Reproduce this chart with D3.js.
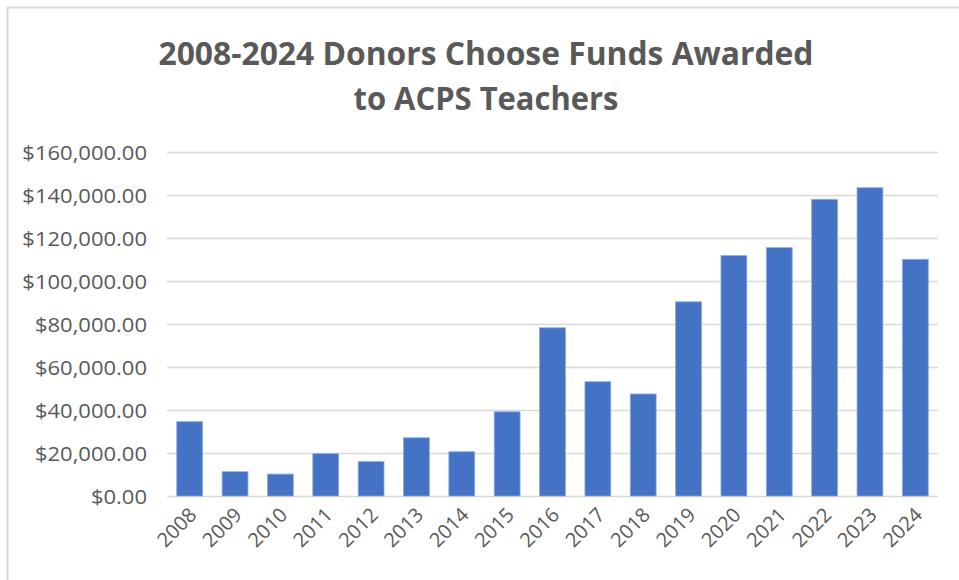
<!DOCTYPE html>
<html>
<head>
<meta charset="utf-8">
<script src="https://cdn.jsdelivr.net/npm/d3@7"></script>
<style>
  body { margin: 0; background: #fff; }
  svg { display: block; }
  .title { font-family: "Open Sans", sans-serif; font-weight: bold; fill: #595959; }
  .tick text { font-family: "Open Sans", sans-serif; fill: #595959; }
</style>
</head>
<body>
<svg id="chart" width="959" height="580"></svg>
<script>
// data
const years = ["2008", "2009", "2010", "2011", "2012", "2013", "2014", "2015", "2016",
  "2017", "2018", "2019", "2020", "2021", "2022", "2023", "2024"];
const funds = [34600, 11300, 10200, 19700, 16000, 27100, 20600, 39200, 78300,
  53200, 47500, 90400, 111900, 115600, 138100, 143500, 110200];
const yTicks = [0, 20000, 40000, 60000, 80000, 100000, 120000, 140000, 160000];
const titleLines = ["2008-2024 Donors Choose Funds Awarded", "to ACPS Teachers"];

const svg = d3.select("#chart");

// outer chart border (runs off right/bottom edge like the screenshot)
svg.append("rect")
  .attr("x", 7.5).attr("y", 7.5)
  .attr("width", 980).attr("height", 600)
  .attr("fill", "none")
  .attr("stroke", "#d9d9d9")
  .attr("stroke-width", 2);

const x = d3.scaleBand()
  .domain(years)
  .range([167, 938])
  .paddingInner(0.43)
  .paddingOuter(0.215);

const y = d3.scaleLinear()
  .domain([0, 160000])
  .range([496, 152.3]);

// gridlines
svg.append("g")
  .selectAll("line")
  .data(yTicks)
  .join("line")
  .attr("x1", 167).attr("x2", 938)
  .attr("y1", d => Math.round(y(d)) + 0.5)
  .attr("y2", d => Math.round(y(d)) + 0.5)
  .attr("stroke", "#d9d9d9")
  .attr("stroke-width", 1.5);

// y axis labels
const fmt = d3.format("$,.2f");
const yAxis = svg.append("g")
  .attr("transform", "translate(147,0)")
  .call(d3.axisLeft(y).tickValues(yTicks).tickFormat(fmt).tickSize(0).tickPadding(0));
yAxis.select(".domain").remove();
yAxis.selectAll("text")
  .attr("font-size", "20px")
  .attr("dy", "0.36em");
// stretch a bit to Calibri-like widths
yAxis.selectAll("text").each(function () {
  const w = this.getComputedTextLength();
  d3.select(this).attr("textLength", w * 1.1).attr("lengthAdjust", "spacingAndGlyphs");
});

// bars
svg.append("g")
  .selectAll("rect")
  .data(years.map((yr, i) => ({ yr, v: funds[i] })))
  .join("rect")
  .attr("x", d => x(d.yr))
  .attr("y", d => y(d.v))
  .attr("width", x.bandwidth())
  .attr("height", d => y(0) - y(d.v))
  .attr("fill", "#4472c4")
  .attr("stroke", "#8faadc")
  .attr("stroke-width", 0.8);

// x labels, rotated
const xAxis = svg.append("g")
  .attr("transform", "translate(0,506)")
  .call(d3.axisBottom(x).tickSize(0).tickPadding(0));
xAxis.select(".domain").remove();
xAxis.selectAll("text")
  .attr("font-size", "20px")
  .attr("text-anchor", "end")
  .attr("dy", "0.72em")
  .attr("transform", "translate(-2,0) rotate(-45)");

// title
svg.append("g")
  .selectAll("text")
  .data(titleLines)
  .join("text")
  .attr("class", "title")
  .attr("x", 486)
  .attr("y", (d, i) => 65 + i * 45)
  .attr("text-anchor", "middle")
  .attr("font-size", "33px")
  .attr("textLength", (d, i) => i === 0 ? 655 : 265)
  .attr("lengthAdjust", "spacingAndGlyphs")
  .text(d => d);
</script>
</body>
</html>
